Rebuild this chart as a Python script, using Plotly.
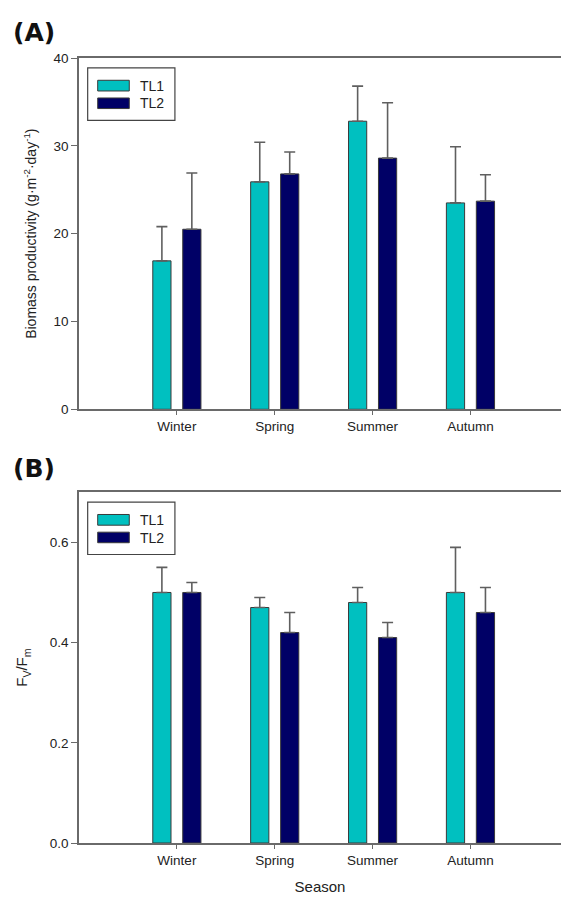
import plotly.graph_objects as go

# Seasonal data for the two treatments
seasons = ["Winter", "Spring", "Summer", "Autumn"]
season_pos = [1, 2, 3, 4]

# (A) biomass productivity, g m-2 day-1 (mean and SD)
biomass_tl1 = [16.9, 25.9, 32.8, 23.5]
biomass_tl1_sd = [3.9, 4.5, 4.0, 6.4]
biomass_tl2 = [20.5, 26.8, 28.6, 23.7]
biomass_tl2_sd = [6.4, 2.5, 6.3, 3.0]

# (B) maximum quantum yield Fv/Fm (mean and SD)
fvfm_tl1 = [0.50, 0.47, 0.48, 0.50]
fvfm_tl1_sd = [0.05, 0.02, 0.03, 0.09]
fvfm_tl2 = [0.50, 0.42, 0.41, 0.46]
fvfm_tl2_sd = [0.02, 0.04, 0.03, 0.05]

series_names = ["TL1", "TL2"]
series_colors = ["#00C0C0", "#000066"]

FONT = "Liberation Sans, Arial, sans-serif"
AXIS_COLOR = "#6a6a6a"
ERR_COLOR = "#5f5f5f"
OUTLINE = "#3a3a3a"

fig = go.Figure()


def add_panel(vals_a, sd_a, vals_b, sd_b, xa, ya):
    for name, color, vals, sd in zip(series_names, series_colors,
                                     [vals_a, vals_b], [sd_a, sd_b]):
        fig.add_trace(go.Bar(
            x=season_pos, y=vals, name=name,
            marker=dict(color=color, line=dict(color=OUTLINE, width=1)),
            error_y=dict(type="data", symmetric=False, array=sd,
                         arrayminus=[0] * len(sd),
                         color=ERR_COLOR, thickness=1.6, width=5.5),
            xaxis=xa, yaxis=ya, showlegend=False,
        ))


add_panel(biomass_tl1, biomass_tl1_sd, biomass_tl2, biomass_tl2_sd, "x", "y")
add_panel(fvfm_tl1, fvfm_tl1_sd, fvfm_tl2, fvfm_tl2_sd, "x2", "y2")

common_x = dict(
    range=[0, 4.925], tickvals=season_pos, ticktext=seasons,
    ticks="outside", ticklen=4, tickwidth=1.2, tickcolor=AXIS_COLOR,
    showline=True, linecolor=AXIS_COLOR, linewidth=1.6, mirror=True,
    showgrid=False, zeroline=False,
    tickfont=dict(family=FONT, size=13.5, color="#222"),
)
common_y = dict(
    ticks="outside", ticklen=6, tickwidth=1.2, tickcolor=AXIS_COLOR,
    showline=True, linecolor=AXIS_COLOR, linewidth=1.6, mirror=False,
    showgrid=False, zeroline=False,
    tickfont=dict(family=FONT, size=13.5, color="#222"),
)

dom_a = [0.5525, 1.0]
dom_b = [0.0, 0.4468]

fig.update_layout(
    width=561, height=899,
    margin=dict(l=79, r=0, t=58, b=56),
    paper_bgcolor="white", plot_bgcolor="white",
    barmode="group", bargap=0.388, bargroupgap=0.392,
    font=dict(family=FONT, color="#222"),
    xaxis=dict(common_x, domain=[0, 1], anchor="y"),
    yaxis=dict(common_y, domain=dom_a, anchor="x", range=[0, 40],
               tickvals=[0, 10, 20, 30, 40],
               title=dict(text="Biomass productivity (g·m<sup>-2</sup>·day<sup>-1</sup>)",
                          font=dict(family=FONT, size=14), standoff=14)),
    xaxis2=dict(common_x, domain=[0, 1], anchor="y2",
                title=dict(text="Season", font=dict(family=FONT, size=15), standoff=14)),
    yaxis2=dict(common_y, domain=dom_b, anchor="x2", range=[0, 0.7],
                tickvals=[0, 0.2, 0.4, 0.6], tickformat=".1f",
                title=dict(text="F<sub>V</sub>/F<sub>m</sub>",
                           font=dict(family=FONT, size=15), standoff=18)),
)

# Panel letters
for label, ypix in [("(A)", 32), ("(B)", 468)]:
    fig.add_annotation(text=f"<b>{label}</b>", xref="paper", yref="paper",
                       x=(11 - 79) / 482, y=(843 - ypix) / 785,
                       xanchor="left", yanchor="middle", showarrow=False,
                       font=dict(family="DejaVu Sans, sans-serif", size=25, color="#111"))

# Boxed legend inside each panel (domain-relative positions)
box_x = (0.018, 0.199)
box_y = (0.8225, 0.9720)
sw_x = (0.0388, 0.1043)
sw_y = [(0.9061, 0.9366), (0.8561, 0.8862)]
txt_y = [0.9210, 0.8710]
for xa, ya in [("x", "y"), ("x2", "y2")]:
    xr, yr = f"{xa} domain", f"{ya} domain"
    fig.add_shape(type="rect", xref=xr, yref=yr,
                  x0=box_x[0], x1=box_x[1], y0=box_y[0], y1=box_y[1],
                  line=dict(color="#444", width=1.2), fillcolor="white")
    for i, (name, color) in enumerate(zip(series_names, series_colors)):
        fig.add_shape(type="rect", xref=xr, yref=yr,
                      x0=sw_x[0], x1=sw_x[1], y0=sw_y[i][0], y1=sw_y[i][1],
                      line=dict(color=OUTLINE, width=1), fillcolor=color)
        fig.add_annotation(text=name, xref=xr, yref=yr, x=0.1215, y=txt_y[i],
                           xanchor="left", yanchor="middle", showarrow=False,
                           font=dict(family=FONT, size=14, color="#222"))

fig.write_html("out.html")
